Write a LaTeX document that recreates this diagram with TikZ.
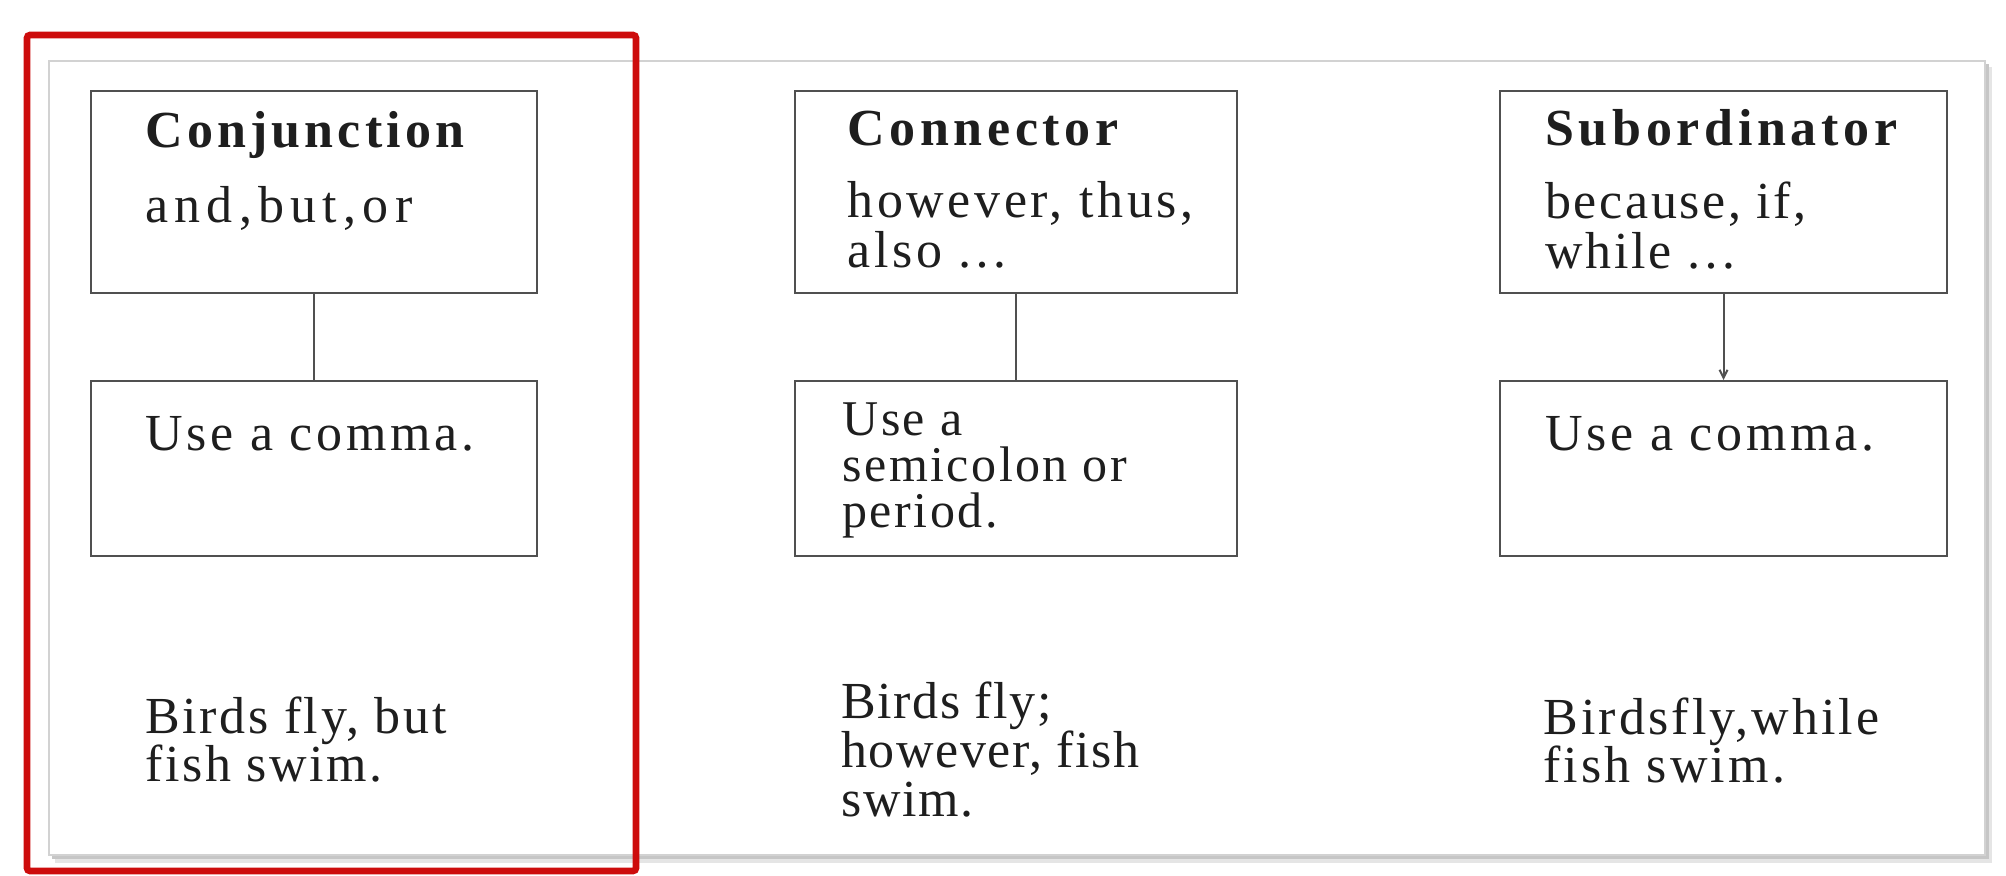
\documentclass[tikz,border=0pt]{standalone}
\usepackage{fontspec}
\setmainfont{Liberation Serif}
\usetikzlibrary{arrows.meta}
\definecolor{txt}{RGB}{30,30,30}
\definecolor{boxline}{RGB}{80,80,80}
\definecolor{redframe}{RGB}{205,12,12}
\begin{document}
\begin{tikzpicture}[x=0.5pt,y=-0.5pt,
  box/.style={draw=boxline, line width=1pt, fill=white, inner sep=0pt, anchor=north west, rectangle},
  lbl/.style={anchor=base west, inner sep=0pt, text=txt, align=left, font={\fontsize{26}{24}\selectfont\addfontfeature{LetterSpace=#1}}},
  lbl/.default=0,
  sml/.style={anchor=base west, inner sep=0pt, text=txt, align=left, font={\fontsize{25}{23}\selectfont\addfontfeature{LetterSpace=#1}}},
  sml/.default=0,
  hd/.style={anchor=base west, inner sep=0pt, text=txt, font={\fontsize{26}{24}\selectfont\bfseries\addfontfeature{LetterSpace=#1}}},
  hd/.default=8,
  link/.style={draw=boxline, line width=1pt}]
\useasboundingbox (0,0) rectangle (2006,875);
% panel with shadow
\fill[gray!20] (55,67) rectangle (1992,863);
\fill[gray!45] (52,64) rectangle (1989,859);
\filldraw[fill=white, draw=gray!35, line width=0.8pt] (49,61) rectangle (1985,855);
% column 1
\node[box, minimum width=223pt, minimum height=101pt] (c1) at (90,90) {};
\node[box, minimum width=223pt, minimum height=87.5pt] (u1) at (90,380) {};
\draw[link] (c1.south) -- (u1.north);
\node[hd=8] (h1) at (145,147) {Conjunction};
\node[lbl=12] (k1) at (145,222) {and,but,or};
\node[lbl=7] (r1) at (145,450) {Use a comma.};
% multi-line nodes: base anchor is the baseline of the last line
\node[lbl=5] (e1) at (145,781) {Birds fly, but\\fish swim.};
% column 2
\node[box, minimum width=221pt, minimum height=101pt] (c2) at (794,90) {};
\node[box, minimum width=221pt, minimum height=87.5pt] (u2) at (794,380) {};
\draw[link] (c2.south) -- (u2.north);
\node[hd=9] (h2) at (847,145) {Connector};
\node[lbl=7] (k2) at (847,267) {however, thus,\\[1pt]also\hspace{7pt}\ldots};
\node[sml=5] (r2) at (842,527) {Use a\\semicolon or\\period.};
\node[lbl=3] (e2) at (841,816) {Birds fly;\\[0.5pt]however, fish\\[0.5pt]swim.};
% column 3
\node[box, minimum width=223.5pt, minimum height=101pt] (c3) at (1499,90) {};
\node[box, minimum width=223.5pt, minimum height=87.5pt] (u3) at (1499,380) {};
\draw[link, -{Straight Barb[length=4pt,width=4pt]}] (c3.south) -- (u3.north);
\node[hd=9] (h3) at (1545,145) {Subordinator};
\node[lbl=5] (k3) at (1545,268) {because, if,\\[1pt]while\hspace{7pt}\ldots};
\node[lbl=7] (r3) at (1545,450) {Use a comma.};
\node[lbl=6] (e3) at (1543,782) {Birdsfly,while\\fish swim.};
% red highlight frame
\draw[redframe, line width=3.3pt, rounded corners=1.5pt] (27,35) rectangle (636,871);
\end{tikzpicture}
\end{document}
